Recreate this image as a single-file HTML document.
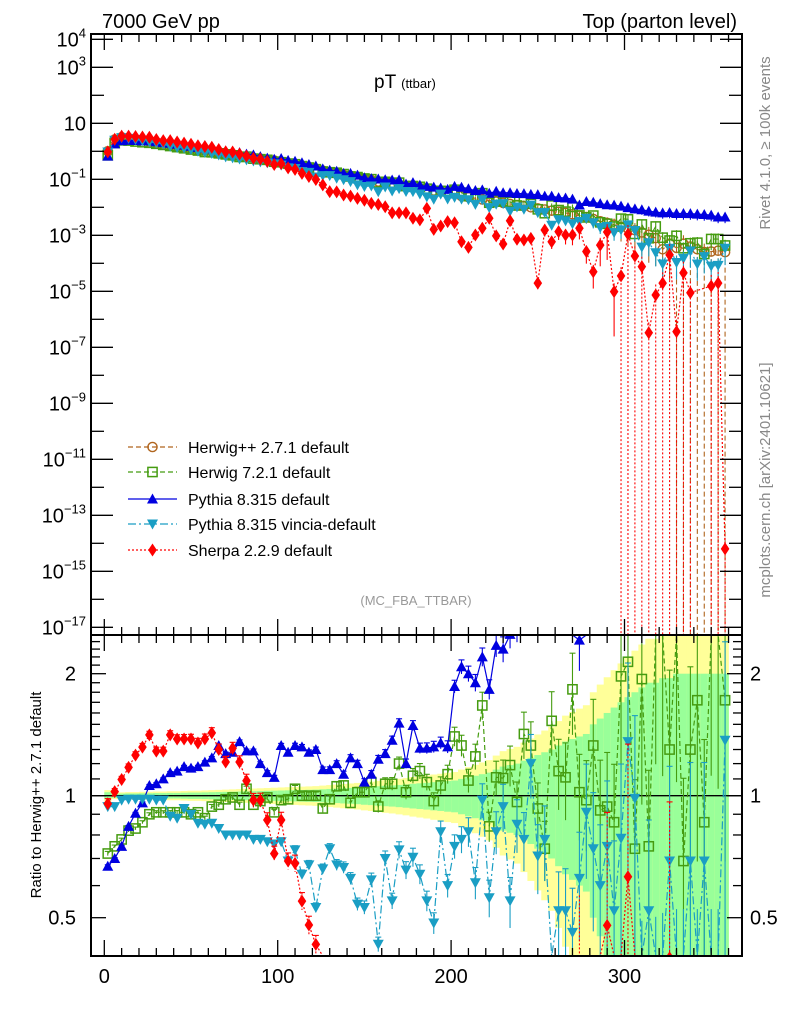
<!DOCTYPE html>
<html><head><meta charset="utf-8"><style>
html,body{margin:0;padding:0;background:#fff;overflow:hidden;width:786px;height:1024px;}
svg{display:block;font-family:"Liberation Sans",Arial,sans-serif;}
</style></head><body>
<svg id="chart" width="786" height="1024" viewBox="0 0 786 1024" xmlns="http://www.w3.org/2000/svg">
<defs>
<clipPath id="clipTop"><rect x="91" y="34" width="651" height="601"/></clipPath>
<clipPath id="clipRatio"><rect x="91" y="635" width="651" height="321"/></clipPath>
</defs>
<text x="102" y="28" font-size="20">7000 GeV pp</text>
<text x="737" y="28" font-size="20" text-anchor="end">Top (parton level)</text>
<text x="374" y="88" font-size="19">pT <tspan font-size="13">(ttbar)</tspan></text>
<text x="416" y="605" font-size="13" fill="#999" text-anchor="middle">(MC_FBA_TTBAR)</text>
<text transform="translate(770,143) rotate(-90)" font-size="15" fill="#888" text-anchor="middle">Rivet 4.1.0, ≥ 100k events</text>
<text transform="translate(770,480) rotate(-90)" font-size="15" fill="#888" text-anchor="middle">mcplots.cern.ch [arXiv:2401.10621]</text>
<text transform="translate(41,795) rotate(-90)" font-size="15" text-anchor="middle">Ratio to Herwig++ 2.7.1 default</text>
<g id="layer"></g>
</svg>
<script>
const binCenters = Array.from({length:90},(_,i)=>2+4*i);
const herwigppLog = [0.0,0.42,0.5,0.47,0.43,0.39,0.35,0.31,0.27,0.23,
0.19,0.15,0.11,0.07,0.03,-0.01,-0.05,-0.1,-0.14,-0.18,
-0.21,-0.24,-0.27,-0.3,-0.33,-0.38,-0.43,-0.48,-0.53,-0.58,
-0.64,-0.69,-0.74,-0.79,-0.84,-0.88,-0.93,-0.98,-1.03,-1.08,
-1.12,-1.16,-1.2,-1.25,-1.29,-1.33,-1.37,-1.4,-1.44,-1.48,
-1.52,-1.6,-1.64,-1.68,-1.72,-1.76,-1.8,-1.84,-1.88,-1.92,
-1.96,-2.0,-2.04,-2.08,-2.12,-2.16,-2.2,-2.25,-2.3,-2.35,
-2.42,-2.5,-2.56,-2.62,-2.7,-2.76,-2.82,-2.9,-2.98,-3.1,
-3.5,-3.3,-3.45,-3.3,-3.4,-3.5,-3.6,-3.58,-3.55,-3.6];
const herwig7Ratio = [0.72,0.75,0.78,0.82,0.83,0.86,0.9,0.91,0.91,0.91,
0.91,0.91,0.9,0.91,0.88,0.94,0.95,0.98,0.99,0.95,
1.04,0.95,0.97,0.99,0.91,0.975,0.98,1.04,1.0,1.0,
1.0,0.93,0.98,1.055,1.06,0.96,1.02,1.02,1.08,0.94,
1.07,1.07,1.2,1.02,1.12,1.15,1.08,0.97,1.06,1.13,
1.4,1.33,1.09,1.25,1.67,0.84,1.11,1.105,1.19,0.965,
1.42,1.33,0.93,0.74,1.53,1.15,1.11,1.83,1.02,0.975,
1.33,0.92,0.94,0.86,1.97,2.14,0.74,1.94,0.75,2.6,
2.6,1.3,2.7,0.69,1.3,1.72,0.86,2.8,2.6,1.72];
const pythiaRatio = [0.67,0.70,0.75,0.84,0.905,0.96,1.06,1.07,1.10,1.14,
1.15,1.18,1.17,1.18,1.21,1.24,1.33,1.27,1.28,1.36,
1.29,1.29,1.2,1.14,1.11,1.33,1.28,1.33,1.32,1.28,
1.3,1.16,1.16,1.2,1.13,1.24,1.2,1.08,1.13,1.23,
1.27,1.37,1.51,1.2,1.49,1.31,1.31,1.32,1.35,1.32,
1.86,2.08,2.0,1.9,2.2,1.83,2.35,2.3,2.5,2.6,
2.8,2.9,3.1,3.0,3.3,3.2,3.4,3.5,2.42,3.6,
4.0,4.3,4.5,5.0,5.5,5.6,5.8,6.5,7.0,8.5,
20,13,17,12,15,18,22,20,16,18];
const vinciaRatio = [0.94,0.94,0.975,0.98,0.98,0.98,0.98,0.975,0.975,0.89,
0.88,0.93,0.9,0.855,0.85,0.855,0.83,0.8,0.8,0.8,
0.8,0.78,0.78,0.77,0.76,0.77,0.69,0.735,0.64,0.675,
0.53,0.66,0.74,0.675,0.665,0.625,0.54,0.53,0.62,0.43,
0.7,0.55,0.735,0.655,0.705,0.64,0.55,0.485,0.815,0.6,
0.75,0.78,0.815,0.61,0.975,0.56,0.815,0.94,0.55,0.85,
0.78,1.2,0.71,0.78,0.3,0.52,0.52,0.46,0.625,0.91,
0.74,0.6,0.75,0.52,0.785,1.36,0.985,0.3,0.52,0.3,
0.3,0.69,0.3,0.3,0.69,0.3,0.69,0.3,0.3,1.37];
const sherpaLog = [-0.02,0.43,0.54,0.54,0.53,0.51,0.50,0.42,0.38,0.38,
0.33,0.29,0.25,0.20,0.17,0.145,0.064,-0.017,-0.023,-0.097,
-0.173,-0.251,-0.281,-0.36,-0.473,-0.44,-0.591,-0.647,-0.79,-0.899,
-1.007,-1.2,-1.44,-1.45,-1.56,-1.6,-1.68,-1.75,-1.86,-1.9,
-1.98,-2.2,-2.2,-2.2,-2.39,-2.45,-2.04,-2.79,-2.67,-2.51,
-2.55,-3.23,-3.43,-2.99,-2.75,-2.39,-3.02,-3.31,-2.48,-3.14,
-3.17,-3.11,-4.71,-2.81,-3.23,-2.87,-2.99,-2.99,-2.75,-3.58,
-4.3,-3.35,-2.88,-5.01,-4.45,-2.96,-3.74,-4.12,-6.48,-5.13,
-4.71,-3.7,-6.44,-4.34,-5.05,null,null,-4.81,-4.71,-14.2];
const refErr = [0.02,0.012,0.012,0.013,0.013,0.014,0.014,0.015,0.015,0.016,
0.016,0.017,0.018,0.018,0.019,0.02,0.021,0.022,0.023,0.024,
0.025,0.026,0.027,0.028,0.029,0.03,0.031,0.032,0.033,0.034,
0.035,0.037,0.039,0.041,0.043,0.045,0.047,0.05,0.052,0.055,
0.058,0.06,0.063,0.066,0.07,0.073,0.076,0.08,0.083,0.087,
0.09,0.1,0.11,0.12,0.13,0.14,0.16,0.18,0.19,0.2,
0.22,0.24,0.26,0.28,0.3,0.33,0.36,0.38,0.4,0.42,
0.5,0.55,0.6,0.65,0.7,0.75,0.8,0.85,0.9,0.9,
0.95,0.95,1,1,1,1,1,1,1,1];
const xTicks = [0,100,200,300];
const topTickDecades = [4,3,2,1,0,-1,-2,-3,-4,-5,-6,-7,-8,-9,-10,-11,-12,-13,-14,-15,-16,-17];
const topLabelDecades = [4,3,1,-1,-3,-5,-7,-9,-11,-13,-15,-17];
const ratioTicks = [0.5,0.6,0.7,0.8,0.9,1,1.1,1.2,1.3,1.4,1.5,1.6,1.7,1.8,1.9,2,2.1,2.2,2.3,2.4];
const ratioLabels = [0.5,1,2];

const NS="http://www.w3.org/2000/svg";
const XL=91,XR=742,T0=34,T1=635,R0=635,R1=956;
function X(v){return 104.3+v*1.734;}
function YT(l){return 67.3-(l-3)*28;}
function YR(r){return 795.7-Math.log2(r)*122;}
function clampT(y){return Math.max(T0,Math.min(T1,y));}
function clampR(y){return Math.max(R0,Math.min(R1,y));}
const layer=document.getElementById('layer');
function mk(tag,attrs,parent){const e=document.createElementNS(NS,tag);for(const k in attrs)e.setAttribute(k,attrs[k]);(parent||layer).appendChild(e);return e;}

const gBand=mk('g',{'clip-path':'url(#clipRatio)'});


const gTop=mk('g',{'clip-path':'url(#clipTop)'});


const gRat=mk('g',{'clip-path':'url(#clipRatio)'});


const gAx=mk('g',{});



binCenters.forEach((c,i)=>{
  const e=refErr[i];
  const yt=clampR(YR(1+1.6*e)), yb=clampR(YR(Math.max(1-1.6*e,0.05)));
  const y=mk('rect',{x:X(c-2),width:X(c+2)-X(c-2)+0.3,y:yt,height:yb-yt,fill:'#ffff99'},gBand);
  
  
  const gt=clampR(YR(1+e)), gb=clampR(YR(Math.max(1-e,0.05)));
  const g=mk('rect',{x:X(c-2),width:X(c+2)-X(c-2)+0.3,y:gt,height:gb-gt,fill:'#99ff99'},gBand);
  
  
});
const one=mk('line',{x1:XL,x2:XR,y1:YR(1),y2:YR(1),stroke:'#000','stroke-width':1.3},gBand);



function marker(g,type,cx,cy,color){
  let e;
  if(type==='circle') e=mk('circle',{cx:cx,cy:cy,r:4.6,fill:'none',stroke:color,'stroke-width':1.4},g);
  else if(type==='square') e=mk('rect',{x:cx-4.6,y:cy-4.6,width:9.2,height:9.2,fill:'none',stroke:color,'stroke-width':1.5},g);
  else if(type==='up') e=mk('polygon',{points:`${cx-5.5},${cy+4.5} ${cx+5.5},${cy+4.5} ${cx},${cy-5.5}`,fill:color},g);
  else if(type==='down') e=mk('polygon',{points:`${cx-5.5},${cy-4.5} ${cx+5.5},${cy-4.5} ${cx},${cy+5.5}`,fill:color},g);
  else e=mk('polygon',{points:`${cx},${cy-6.5} ${cx+4.3},${cy} ${cx},${cy+6.5} ${cx-4.3},${cy}`,fill:color},g);
  return e;
}

const herwig7Log=herwigppLog.map((l,i)=>l+Math.log10(herwig7Ratio[i]));
const pythiaLog=herwigppLog.map((l,i)=>l+Math.log10(pythiaRatio[i]));
const vinciaLog=herwigppLog.map((l,i)=>l+Math.log10(vinciaRatio[i]));
const sherpaRatio=sherpaLog.map((l,i)=>l===null?null:Math.pow(10,l-herwigppLog[i]));

const series=[
 {key:'herwigpp',label:'Herwig++ 2.7.1 default',color:'#b0651e',dash:'5,3',mark:'circle',log:herwigppLog,ratio:null,ek:1},
 {key:'herwig7',label:'Herwig 7.2.1 default',color:'#459c10',dash:'5,3',mark:'square',log:herwig7Log,ratio:herwig7Ratio,ek:0.6},
 {key:'pythia',label:'Pythia 8.315 default',color:'#0000e0',dash:'',mark:'up',log:pythiaLog,ratio:pythiaRatio,ek:0.4},
 {key:'vincia',label:'Pythia 8.315 vincia-default',color:'#1a9ec4',dash:'8,3,2,3',mark:'down',log:vinciaLog,ratio:vinciaRatio,ek:0.75},
 {key:'sherpa',label:'Sherpa 2.2.9 default',color:'#ff0000',dash:'2,2',mark:'diamond',log:sherpaLog,ratio:sherpaRatio,ek:1.5}
];

series.forEach(s=>{
  let pts=[];
  binCenters.forEach((c,i)=>{ if(s.log[i]!==null) pts.push([X(c),clampT(YT(s.log[i]))]); });
  const pl=mk('polyline',{points:pts.map(p=>p.join(',')).join(' '),fill:'none',stroke:s.color,'stroke-width':1.2,'stroke-dasharray':s.dash},gTop);
  
  
  binCenters.forEach((c,i)=>{
    const l=s.log[i]; if(l===null) return;
    const e=refErr[i]*s.ek;
    const yh=clampT(YT(l+Math.log10(1+e)));
    const yl=(1-e)<=0.001?T1:clampT(YT(l+Math.log10(1-e)));
    const eb=mk('line',{x1:X(c),x2:X(c),y1:yh,y2:yl,stroke:s.color,'stroke-width':1.1,'stroke-dasharray':(1-e)<=0.001?s.dash:''},gTop);
    
    
    const yc=YT(l);
    if(yc>T1) return;
    const m=marker(gTop,s.mark,X(c),yc,s.color);
    
    
  });
  if(!s.ratio) return;
  let rp=[];
  binCenters.forEach((c,i)=>{ const r=s.ratio[i]; if(r!==null) rp.push([X(c),clampR(YR(r))]); });
  const rl=mk('polyline',{points:rp.map(p=>p.join(',')).join(' '),fill:'none',stroke:s.color,'stroke-width':1.2,'stroke-dasharray':s.dash},gRat);
  
  
  binCenters.forEach((c,i)=>{
    const r=s.ratio[i]; if(r===null) return;
    const e=refErr[i]*s.ek;
    const yh=clampR(YR(r*(1+e))), yl=(1-e)<=0.05?R1:clampR(YR(r*(1-e)));
    const eb=mk('line',{x1:X(c),x2:X(c),y1:yh,y2:yl,stroke:s.color,'stroke-width':1.1,'stroke-dasharray':s.dash==='2,2'?'2,2':''},gRat);
    
    
    const yc=YR(r);
    if(yc<R0-6||yc>R1+6) return;
    const cp=mk('line',{x1:X(c)-3,x2:X(c)+3,y1:yh,y2:yh,stroke:s.color,'stroke-width':1.1},gRat);
    
    
    const m=marker(gRat,s.mark,X(c),yc,s.color);
    
    
  });
});

const gLeg=mk('g',{});


const legY=[447,472,499,524,550];
series.forEach((s,k)=>{
  const y=legY[k];
  const ln=mk('line',{x1:128,x2:177,y1:y,y2:y,stroke:s.color,'stroke-width':1.3,'stroke-dasharray':s.dash},gLeg);
  
  
  const m=marker(gLeg,s.mark,152.5,y,s.color);
  
  
  const t=mk('text',{x:188,y:y+6,'font-size':16},gLeg);
  t.textContent=s.label;
  
  
});

[[T0,T1],[R0,R1]].forEach(([a,b],k)=>{
  const r=mk('rect',{x:XL,y:a,width:XR-XL,height:b-a,fill:'none',stroke:'#000','stroke-width':2},gAx);
  
  
});
for(let v=0;v<=360;v+=10){
  const major=xTicks.includes(v);
  const L=major?16:8;
  [[T0,1],[T1,-1],[R0,1],[R1,-1]].forEach(([y0,d])=>{
    const t=mk('line',{x1:X(v),x2:X(v),y1:y0,y2:y0+d*L,stroke:'#000','stroke-width':1.3},gAx);
    
    
  });
}
xTicks.forEach(v=>{
  const t=mk('text',{x:X(v),y:983,'font-size':20,'text-anchor':'middle'},gAx);
  t.textContent=String(v);
  
  
});
topTickDecades.forEach(d=>{
  const lab=topLabelDecades.includes(d);
  const L=lab?22:13;
  [[XL,1],[XR,-1]].forEach(([x0,s])=>{
    const t=mk('line',{x1:x0,x2:x0+s*L,y1:YT(d),y2:YT(d),stroke:'#000','stroke-width':1.3},gAx);
    
    
  });
  if(lab){
    const t=mk('text',{x:86,y:YT(d)+7,'font-size':20,'text-anchor':'end'},gAx);
    t.textContent='10';
    if(d!==1){
      const sp=document.createElementNS(NS,'tspan');
      sp.setAttribute('dy','-9');
      sp.setAttribute('font-size','13');
      sp.textContent=d<0?('\u2212'+(-d)):String(d);
      t.appendChild(sp);
    }
    
    
  }
});
ratioTicks.forEach(r=>{
  const major=ratioLabels.includes(r);
  const L=major?15:9;
  [[XL,1],[XR,-1]].forEach(([x0,s])=>{
    const t=mk('line',{x1:x0,x2:x0+s*L,y1:YR(r),y2:YR(r),stroke:'#000','stroke-width':1.3},gAx);
    
    
  });
});
ratioLabels.forEach(r=>{
  const a=mk('text',{x:76,y:YR(r)+7,'font-size':20,'text-anchor':'end'},gAx);
  a.textContent=String(r);
  
  
  const b=mk('text',{x:750,y:YR(r)+7,'font-size':20},gAx);
  b.textContent=String(r);
  
  
});
</script>
</body></html>
